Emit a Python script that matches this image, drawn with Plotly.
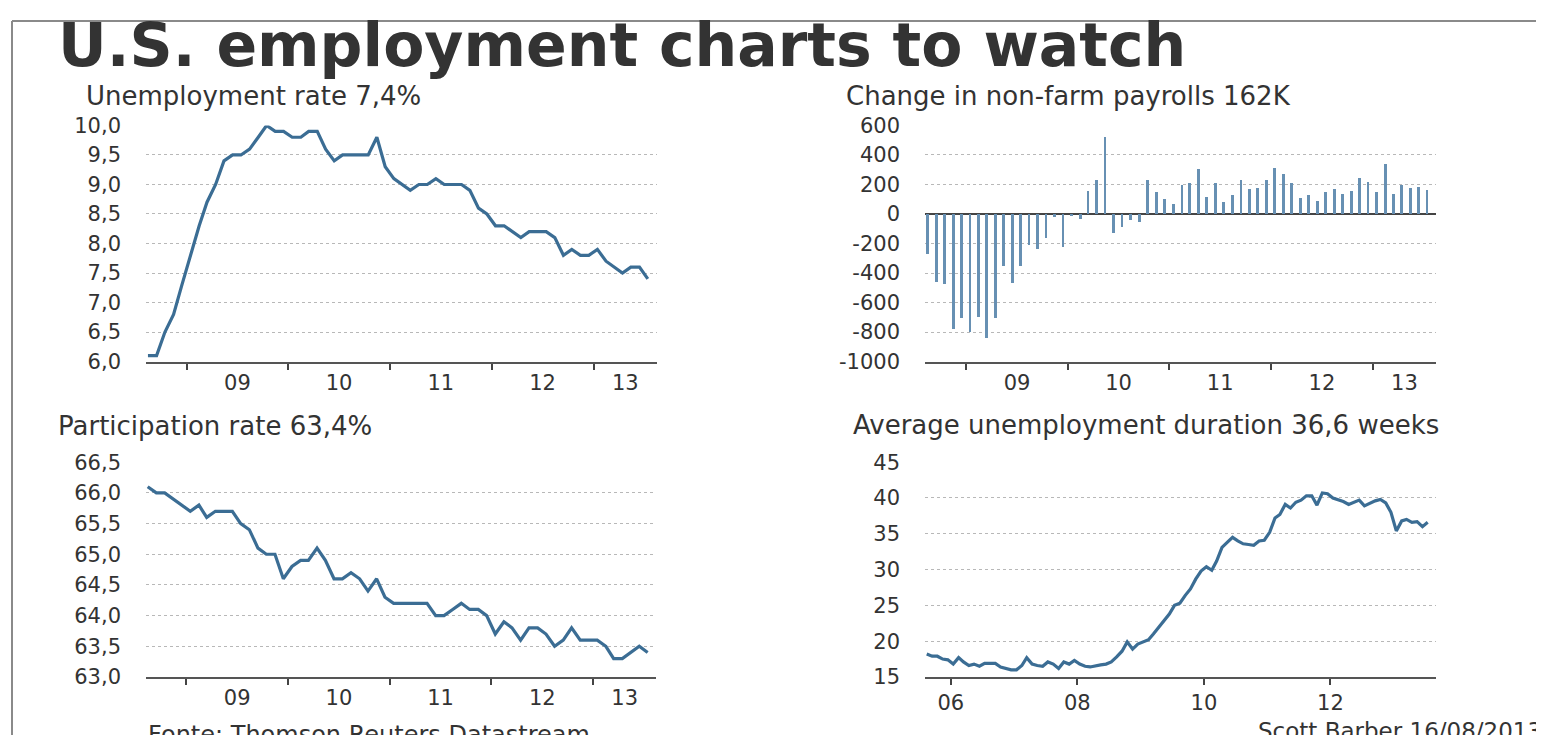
import plotly.graph_objects as go
import pandas as pd

# page is 1544 wide; the HTML body adds an 8px margin round the figure
PAGE_W = 1544
OFF = 8
W, H = PAGE_W - 2 * OFF, 740

# ---------------- data ----------------
title_text = "U.S. employment charts to watch"

unemp_title = "Unemployment rate 7,4%"
unemp_start = "2008-08"
unemployment = [6.1, 6.1, 6.5, 6.8, 7.3,
                7.8, 8.3, 8.7, 9.0, 9.4, 9.5, 9.5, 9.6, 9.8, 10.0, 9.9, 9.9,
                9.8, 9.8, 9.9, 9.9, 9.6, 9.4, 9.5, 9.5, 9.5, 9.5, 9.8, 9.3,
                9.1, 9.0, 8.9, 9.0, 9.0, 9.1, 9.0, 9.0, 9.0, 8.9, 8.6, 8.5,
                8.3, 8.3, 8.2, 8.1, 8.2, 8.2, 8.2, 8.1, 7.8, 7.9, 7.8, 7.8,
                7.9, 7.7, 7.6, 7.5, 7.6, 7.6, 7.4]
unemp_ticks = [6.0, 6.5, 7.0, 7.5, 8.0, 8.5, 9.0, 9.5, 10.0]

pay_title = "Change in non-farm payrolls 162K"
pay_start = "2008-08"
payrolls = [-275, -467, -478, -782, -710, -805, -703, -843, -710, -358,
            -473, -358, -214, -237, -169, -22, -225, -14, -38, 153,
            225, 521, -129, -90, -43, -54, 225, 147, 97, 68,
            194, 207, 304, 115, 207, 79, 126, 225, 165, 176,
            225, 311, 266, 205, 104, 124, 86, 147, 165, 135,
            153, 243, 214, 147, 334, 135, 194, 176, 183, 162]
pay_ticks = [-1000, -800, -600, -400, -200, 0, 200, 400, 600]
pay_ticktext = ["-1000", "-800", "-600", "-400", "-200", "0", "200", "400", "600"]

part_title = "Participation rate 63,4%"
part_start = "2008-08"
participation = [66.1, 66.0, 66.0, 65.9, 65.8,
                 65.7, 65.8, 65.6, 65.7, 65.7, 65.7, 65.5, 65.4, 65.1, 65.0, 65.0, 64.6,
                 64.8, 64.9, 64.9, 65.1, 64.9, 64.6, 64.6, 64.7, 64.6, 64.4, 64.6, 64.3,
                 64.2, 64.2, 64.2, 64.2, 64.2, 64.0, 64.0, 64.1, 64.2, 64.1, 64.1, 64.0,
                 63.7, 63.9, 63.8, 63.6, 63.8, 63.8, 63.7, 63.5, 63.6, 63.8, 63.6, 63.6,
                 63.6, 63.5, 63.3, 63.3, 63.4, 63.5, 63.4]
part_ticks = [63.0, 63.5, 64.0, 64.5, 65.0, 65.5, 66.0, 66.5]

dur_title = "Average unemployment duration 36,6 weeks"
dur_start = "2005-08"
duration = [18.2, 17.9, 17.9, 17.5, 17.4, 16.8, 17.7, 17.1, 16.6, 16.8,
            16.5, 16.9, 16.9, 16.9, 16.4, 16.2, 16.0, 16.0, 16.6, 17.7,
            16.8, 16.6, 16.5, 17.1, 16.8, 16.2, 17.1, 16.8, 17.3, 16.8,
            16.5, 16.4, 16.6, 16.7, 16.8, 17.1, 17.8, 18.6, 19.9, 18.9,
            19.6, 19.9, 20.2, 21.0, 21.9, 22.9, 23.8, 25.0, 25.3, 26.4,
            27.3, 28.7, 29.8, 30.4, 29.9, 31.2, 33.1, 33.8, 34.5, 34.0,
            33.6, 33.5, 33.4, 34.0, 34.1, 35.2, 37.2, 37.7, 39.1, 38.6,
            39.4, 39.7, 40.3, 40.3, 39.0, 40.7, 40.6, 40.0, 39.8, 39.5,
            39.1, 39.4, 39.7, 38.9, 39.3, 39.6, 39.8, 39.3, 38.0, 35.4,
            36.8, 37.0, 36.6, 36.7, 36.0, 36.6]
dur_ticks = [15, 20, 25, 30, 35, 40, 45]
dur_years = ["2006-01-01", "2008-01-01", "2010-01-01", "2012-01-01"]
dur_yeartext = ["06", "08", "10", "12"]

source_text = "Fonte: Thomson Reuters Datastream"
credit_text = "Scott Barber 16/08/2013"
year_labels = ["09", "10", "11", "12", "13"]
label_years = [2009, 2010, 2011, 2012, 2013]

# ---------------- styling ----------------
LINE = "#3b6d94"
BAR = "#6790b3"
TXT = "#333333"
FONT = "DejaVu Sans"
TICKFONT = dict(family=FONT, size=21, color=TXT)
SUBFONT = dict(family=FONT, size=26, color=TXT)


def mid_month(start, n):
    return pd.date_range(start=start + "-01", periods=n, freq="MS") + pd.Timedelta(days=14)


# layout positions below are in figure pixels (x from the left, y from the top)
def xd(a, b):
    return [a / W, b / W]


def yd(top, bottom):
    return [1 - bottom / H, 1 - top / H]


def px(x):
    return x / W


def py(y):
    return 1 - y / H


def year_axis(rng):
    """labels centred in the visible part of each year, ticks on year boundaries"""
    r0, r1 = pd.Timestamp(rng[0]), pd.Timestamp(rng[1])
    vals = []
    for y in label_years:
        a = max(pd.Timestamp(f"{y}-01-01"), r0)
        b = min(pd.Timestamp(f"{y + 1}-01-01"), r1)
        vals.append((a + (b - a) / 2).strftime("%Y-%m-%d %H:%M"))
    bounds = [f"{y}-01-01" for y in label_years]
    return dict(
        type="date", range=rng, showgrid=False, zeroline=False,
        showline=True, linecolor="#555555", linewidth=2,
        tickmode="array", tickvals=vals, ticktext=year_labels, ticks="",
        tickfont=TICKFONT, ticklabelstandoff=1,
        minor=dict(tickmode="array", tickvals=bounds, ticks="outside",
                   ticklen=6, tickwidth=1.5, tickcolor="#444444", showgrid=False),
        fixedrange=True,
    )


def value_axis(rng, ticks, text=None, fmt=None, standoff=24):
    d = dict(
        range=rng, showgrid=True, gridcolor="#b8b8b8", griddash="dot", gridwidth=1,
        zeroline=False, showline=False, ticks="", tickmode="array", tickvals=ticks,
        tickfont=TICKFONT, ticklabelstandoff=standoff, fixedrange=True,
    )
    if text is not None:
        d["ticktext"] = text
    if fmt is not None:
        d["tickformat"] = fmt
    return d


fig = go.Figure()

fig.add_trace(go.Scatter(x=mid_month(unemp_start, len(unemployment)), y=unemployment,
                         mode="lines", line=dict(color=LINE, width=3.2),
                         xaxis="x", yaxis="y", showlegend=False))
fig.add_trace(go.Bar(x=mid_month(pay_start, len(payrolls)), y=payrolls,
                     marker=dict(color=BAR, line=dict(width=0)),
                     width=10 * 86400000, xaxis="x2", yaxis="y2", showlegend=False))
fig.add_trace(go.Scatter(x=mid_month(part_start, len(participation)), y=participation,
                         mode="lines", line=dict(color=LINE, width=3.2),
                         xaxis="x3", yaxis="y3", showlegend=False))
fig.add_trace(go.Scatter(x=mid_month(dur_start, len(duration)), y=duration,
                         mode="lines", line=dict(color=LINE, width=3.2),
                         xaxis="x4", yaxis="y4", showlegend=False))

TOP_A, BOT_A = 109, 353      # top row of panels
TOP_B, BOT_B = 457, 679      # bottom row of panels

x1 = year_axis(["2008-08-08", "2013-08-17"])
x1.update(domain=xd(138, 649), anchor="y")
x2 = year_axis(["2008-08-06", "2013-08-16"])
x2.update(domain=xd(917, 1428), anchor="y2")
x3 = year_axis(["2008-08-09", "2013-08-14"])
x3.update(domain=xd(138, 648), anchor="y3")
x4 = dict(type="date", range=["2005-08-05", "2013-09-01"], domain=xd(917, 1428), anchor="y4",
          showgrid=False, zeroline=False, showline=True, linecolor="#555555", linewidth=2,
          tickmode="array", tickvals=dur_years, ticktext=dur_yeartext,
          ticks="outside", ticklen=6, tickwidth=1.5, tickcolor="#444444",
          tickfont=TICKFONT, fixedrange=True)

y1 = value_axis([6.0, 10.0], unemp_ticks, fmt=".1f")
y1.update(domain=yd(TOP_A, BOT_A), anchor="x")
y2 = value_axis([-1000, 600], pay_ticks, text=pay_ticktext)
y2.update(domain=yd(TOP_A, BOT_A), anchor="x2", zeroline=True, zerolinecolor="#444444",
          zerolinewidth=2)
y3 = value_axis([63.0, 66.5], part_ticks, fmt=".1f")
y3.update(domain=yd(TOP_B, BOT_B), anchor="x3")
y4 = value_axis([15, 45], dur_ticks)
y4.update(domain=yd(TOP_B, BOT_B), anchor="x4")

annotations = [
    dict(text=title_text, x=px(48), y=py(26), xanchor="left", yanchor="middle",
         font=dict(family=FONT, size=60, color=TXT, weight="bold")),
    dict(text=unemp_title, x=px(76), y=py(79), xanchor="left", yanchor="middle", font=SUBFONT),
    dict(text=pay_title, x=px(836), y=py(79), xanchor="left", yanchor="middle", font=SUBFONT),
    dict(text=part_title, x=px(48), y=py(420), xanchor="left", yanchor="middle", font=SUBFONT),
    dict(text=dur_title, x=px(843), y=py(419), xanchor="left", yanchor="middle", font=SUBFONT),
    dict(text=source_text, x=px(138), y=py(722), xanchor="left", yanchor="top",
         font=dict(family=FONT, size=24, color=TXT)),
    dict(text=credit_text, x=px(1536), y=py(719), xanchor="right", yanchor="top",
         font=dict(family=FONT, size=23, color=TXT)),
]
for a in annotations:
    a.update(xref="paper", yref="paper", showarrow=False)

FRAME = dict(color="#8a8a8a", width=2)
fig.update_layout(
    width=W, height=H, margin=dict(l=0, r=0, t=0, b=0),
    paper_bgcolor="white", plot_bgcolor="white",
    separators=",.", bargap=0,
    xaxis=x1, yaxis=y1, xaxis2=x2, yaxis2=y2, xaxis3=x3, yaxis3=y3, xaxis4=x4, yaxis4=y4,
    annotations=annotations,
    shapes=[
        dict(type="line", xref="paper", yref="paper", x0=px(4), x1=1.0, y0=py(1), y1=py(1),
             line=FRAME, layer="above"),
        dict(type="line", xref="paper", yref="paper", x0=px(4), x1=px(4), y0=py(1), y1=0,
             line=FRAME, layer="above"),
    ],
)

fig.write_html("out.html")
